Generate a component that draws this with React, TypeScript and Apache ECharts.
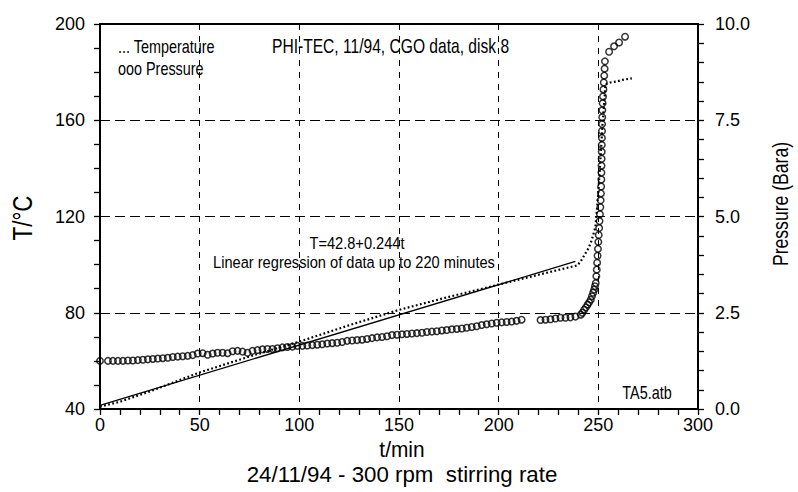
import React, { useEffect, useRef } from "react";
import * as echarts from "echarts";

const FONT = '"Liberation Sans", Arial, sans-serif';

// Temperature (°C) vs time (min) — dotted curve
const tempTime = [0, 10, 25, 50, 75, 100, 125, 150, 175, 200, 220, 239.5, 241.2, 242.7, 244.7, 246.2, 247.5, 248.6, 250, 251, 252, 253, 253.6, 256, 259, 262.3, 266.8];
const tempValue = [41, 43, 47.3, 55.2, 61.8, 68, 74.8, 81.2, 86.6, 91.7, 95.8, 99.7, 101.4, 103.5, 106.3, 109, 112.5, 116, 130, 143, 157, 168, 175, 175.7, 176.1, 176.8, 177.4];

// Linear regression line (solid)
const regTime = [0, 238.5];
const regValue = [41.5, 101.3];

// Pressure (Bara) vs time (min) — open circles
const presTime = [
  0, 4, 6.5, 9, 11.5, 14, 16.5, 19, 21.5, 24, 26.5, 29, 31.5, 34, 36.5, 39, 41.5, 44, 46.5, 49,
  51.5, 54, 56.5, 59, 61.5, 64, 66.5, 69, 71.5, 74, 76.5, 79, 81.5, 84, 86.5, 89, 91.5, 94, 96.5, 99,
  101.5, 104, 106.5, 109, 111.5, 114, 116.5, 119, 121.5, 124, 126.5, 129, 131.5, 134, 136.5, 139, 141.5, 144, 146.5, 149,
  151.5, 154, 156.5, 159, 161.5, 164, 166.5, 169, 171.5, 174, 176.5, 179, 181.5, 184, 186.5, 189, 191.5, 194, 196.5, 199,
  201.5, 204, 206.5, 209, 211.5,
  221, 223.5, 226, 228.5, 231, 233.5, 236, 238.5,
  241.2, 242.0, 242.9, 243.8, 244.6, 245.4, 246.2, 246.8, 247.4, 247.9, 248.3, 248.7, 249.0, 249.2, 249.4, 249.6, 249.8,
  250.0, 250.2, 250.4, 250.6, 250.8, 251.0, 251.15, 251.3, 251.4, 251.5, 251.55, 251.6, 251.65, 251.7, 251.75, 251.8,
  251.85, 251.9, 251.95, 252.0, 252.15, 252.35, 252.55, 252.75, 252.95, 253.15, 253.3,
  255.4, 257.9, 260.4, 263.4
];
const presValue = [
  1.25, 1.25, 1.25, 1.25, 1.25, 1.26, 1.26, 1.27, 1.28, 1.29, 1.30, 1.31, 1.32, 1.33, 1.35, 1.36, 1.37, 1.38, 1.40, 1.44,
  1.45, 1.41, 1.44, 1.46, 1.46, 1.45, 1.50, 1.51, 1.49, 1.46, 1.51, 1.53, 1.55, 1.56, 1.56, 1.58, 1.60, 1.61, 1.62, 1.64,
  1.64, 1.65, 1.66, 1.67, 1.68, 1.70, 1.71, 1.72, 1.74, 1.77, 1.78, 1.79, 1.80, 1.82, 1.84, 1.86, 1.87, 1.89, 1.92, 1.93,
  1.94, 1.95, 1.96, 1.97, 1.98, 2.00, 2.01, 2.02, 2.04, 2.05, 2.07, 2.08, 2.09, 2.11, 2.13, 2.15, 2.18, 2.20, 2.22, 2.24,
  2.25, 2.26, 2.27, 2.29, 2.32,
  2.31, 2.32, 2.33, 2.35, 2.37, 2.37, 2.38, 2.40,
  2.45, 2.50, 2.58, 2.64, 2.71, 2.77, 2.84, 2.93, 3.02, 3.10, 3.19, 3.27, 3.45, 3.62, 3.80, 3.98, 4.16,
  4.34, 4.52, 4.70, 4.88, 5.06, 5.24, 5.42, 5.60, 5.78, 5.96, 6.14, 6.32, 6.50, 6.68, 6.86, 7.04,
  7.22, 7.40, 7.58, 7.76, 7.94, 8.12, 8.30, 8.48, 8.66, 8.84, 9.03,
  9.28, 9.42, 9.52, 9.67
];

const xTickLabels = ["0", "50", "100", "150", "200", "250", "300"];

const black = "#000";

export default function App() {
  const ref = useRef<HTMLDivElement>(null);

  useEffect(() => {
    if (!ref.current) return;
    const chart = echarts.init(ref.current, null, { renderer: "svg" });

    const tempData = tempTime.map((t, i) => [t, tempValue[i]]);
    const regData = regTime.map((t, i) => [t, regValue[i]]);
    const presData = presTime.map((t, i) => [t, presValue[i]]);

    const labelStyle = { color: black, fontSize: 18, fontFamily: FONT };
    const axisLine = { show: true, lineStyle: { color: black, width: 2 } };
    const axisTick = { show: true, inside: false, length: 6, lineStyle: { color: black, width: 1.3 } };

    const txt = (
      text: string,
      x: number,
      y: number,
      fontSize: number,
      scaleX: number,
      align: string,
      rotation = 0
    ) => ({
      type: "text",
      x,
      y,
      rotation,
      scaleX,
      silent: true,
      style: { text, fill: black, fontSize, fontFamily: FONT, align, verticalAlign: "middle" },
    });

    chart.setOption({
      animation: false,
      backgroundColor: "#fff",
      grid: {
        left: 100,
        right: 100,
        top: 24,
        bottom: 83,
        show: true,
        borderColor: black,
        borderWidth: 2,
        backgroundColor: "transparent",
      },
      xAxis: {
        type: "value",
        min: 0,
        max: 300,
        interval: 50,
        axisLine,
        axisTick,
        minorTick: { show: true, splitNumber: 5, length: 6, lineStyle: { color: black, width: 1.3 } },
        splitLine: { show: true, lineStyle: { color: black, width: 1, type: [6, 6] } },
        axisLabel: {
          ...labelStyle,
          margin: 7,
          formatter: (v: number) => xTickLabels[Math.round(v / 50)] ?? String(v),
        },
      },
      yAxis: [
        {
          type: "value",
          position: "left",
          min: 40,
          max: 200,
          interval: 40,
          axisLine,
          axisTick,
          minorTick: { show: true, splitNumber: 4, length: 6, lineStyle: { color: black, width: 1.3 } },
          splitLine: { show: true, lineStyle: { color: black, width: 1, type: [10, 5] } },
          axisLabel: { ...labelStyle, margin: 15 },
        },
        {
          type: "value",
          position: "right",
          min: 0,
          max: 10,
          interval: 2.5,
          axisLine,
          axisTick,
          minorTick: { show: true, splitNumber: 5, length: 6, lineStyle: { color: black, width: 1.3 } },
          splitLine: { show: false },
          axisLabel: { ...labelStyle, margin: 17, formatter: (v: number) => v.toFixed(1) },
        },
      ],
      series: [
        {
          name: "Regression",
          type: "line",
          yAxisIndex: 0,
          data: regData,
          showSymbol: false,
          lineStyle: { color: black, width: 1.3, type: "solid" },
          z: 3,
        },
        {
          name: "Temperature",
          type: "line",
          yAxisIndex: 0,
          data: tempData,
          showSymbol: false,
          lineStyle: { color: black, width: 2.2, type: [1.8, 2.4] },
          z: 4,
        },
        {
          name: "Pressure",
          type: "scatter",
          yAxisIndex: 1,
          data: presData,
          symbol: "circle",
          symbolSize: 6.5,
          itemStyle: { color: "rgba(0,0,0,0)", borderColor: black, borderWidth: 1.5 },
          z: 5,
        },
      ],
      graphic: [
        txt("... Temperature", 118, 46, 18, 0.8, "left"),
        txt("ooo Pressure", 118, 68, 18, 0.8, "left"),
        txt("PHI-TEC, 11/94, CGO data, disk 8", 272, 46, 20, 0.78, "left"),
        txt("T=42.8+0.244t", 357, 243, 17, 0.86, "center"),
        txt("Linear regression of data up to 220 minutes", 354, 262, 17, 0.86, "center"),
        txt("TA5.atb", 647, 392, 18, 0.8, "center"),
        txt("T/°C", 22, 218, 28, 0.8, "center", Math.PI / 2),
        txt("Pressure (Bara)", 780, 204, 22, 0.8, "center", Math.PI / 2),
        txt("t/min", 402, 450, 22, 0.95, "center"),
        txt("24/11/94 - 300 rpm  stirring rate", 402, 474, 23, 0.97, "center"),
      ],
    });

    return () => chart.dispose();
  }, []);

  return <div ref={ref} style={{ width: 798, height: 492, position: "absolute", left: 0, top: 0 }} />;
}
